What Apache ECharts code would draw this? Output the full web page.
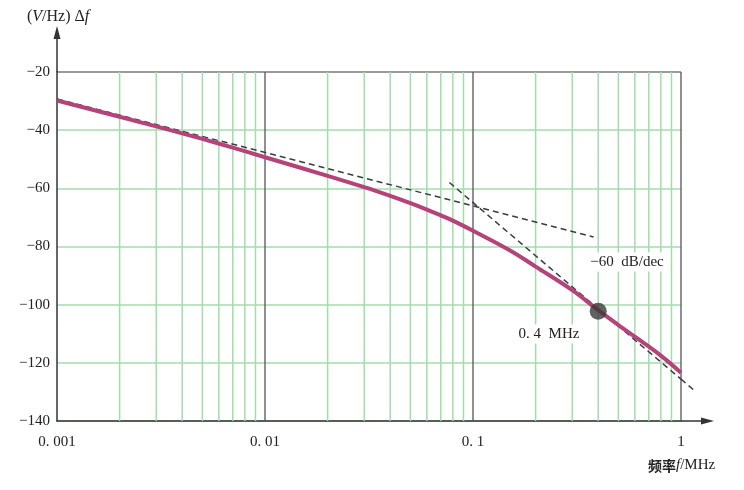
<!DOCTYPE html>
<html><head><meta charset="utf-8">
<script src="https://cdn.jsdelivr.net/npm/echarts@6/dist/echarts.min.js"></script>
<style>html,body{margin:0;padding:0;background:#fff}#c{width:744px;height:490px}</style>
</head><body><div id="c"></div>
<script>
// ---- data ----
const freq  = [0.001,0.002,0.003,0.004,0.005,0.007,0.01,0.02,0.03,0.04,0.05,0.06,0.07,0.08,0.1,0.15,0.2,0.3,0.4,0.5,0.6,0.8,1];
const level = [-29.8,-35.4,-38.7,-41.1,-43.0,-46.0,-49.3,-55.7,-59.6,-62.6,-65.1,-67.3,-69.3,-71.1,-74.6,-81.3,-86.9,-95.0,-101.9,-107.0,-111.0,-117.5,-123.4];
const asymLow  = [[0.001,-29.3],[0.38,-76.7]];     // -20 dB/dec asymptote
const asymHigh = [[0.077,-58.0],[1.15,-129.3]];    // -60 dB/dec asymptote
const markerPoint = [[0.4,-102.3]];
const xTicks = [0.001,0.01,0.1,1];
const xTickLabels = ['0. 001','0. 01','0. 1','1'];
const yTicks = [-140,-120,-100,-80,-60,-40,-20];
const yTickLabels = ['−140','−120','−100','−80','−60','−40','−20'];
const decades = [0.001,0.01,0.1];
const minorMult = [2,3,4,5,6,7,8,9];
const slopeLabel = '−60  dB/dec';
const pointLabel = '0. 4  MHz';
// ---------------------------------------

const minorTicks = [];
decades.forEach(d => minorMult.forEach(m => minorTicks.push(+(d*m).toPrecision(6))));

const serif = '"Liberation Serif","DejaVu Serif",serif';
const green = '#a3dcac';
const chart = echarts.init(document.getElementById('c'), null, {renderer:'canvas'});

const yMin = yTicks[0], yMax = yTicks[yTicks.length-1];
const xMin = xTicks[0], xMax = xTicks[xTicks.length-1];
const gridColors = yTicks.map((v,i) => i === yTicks.length-1 ? '#7a7a7a' : green);

const minorSeries = minorTicks.map(v => ({
  type:'line', data:[[v, yMin],[v, yMax]], symbol:'none', silent:true, z:1,
  lineStyle:{color:green, width:1.5}
}));

// part of the -60 dB/dec asymptote inside the axis range
const hiSlope = (asymHigh[1][1]-asymHigh[0][1]) / (Math.log10(asymHigh[1][0]) - Math.log10(asymHigh[0][0]));
const hiAtMax = asymHigh[0][1] + hiSlope*(Math.log10(xMax)-Math.log10(asymHigh[0][0]));

chart.setOption({
  animation:false,
  backgroundColor:'#fff',
  grid:{left:57, right:63, top:72, bottom:69, containLabel:false},
  xAxis:{
    type:'log', logBase:10, min:xMin, max:xMax,
    axisLine:{show:true, lineStyle:{color:'#333', width:1.5}},
    axisTick:{show:false},
    axisLabel:{
      margin:14, color:'#222', fontFamily:serif, fontSize:15,
      formatter:v => { const k = xTicks.findIndex(t => Math.abs(Math.log10(t)-Math.log10(v))<1e-6); return k>=0 ? xTickLabels[k] : ''; }
    },
    splitLine:{show:false},
    minorTick:{show:false}, minorSplitLine:{show:false}
  },
  yAxis:{
    type:'value', min:yMin, max:yMax, interval:20,
    axisLine:{show:true, lineStyle:{color:'#333', width:1.5}},
    axisTick:{show:false},
    axisLabel:{
      margin:7, color:'#222', fontFamily:serif, fontSize:15,
      formatter:v => { const k = yTicks.indexOf(Math.round(v)); return k>=0 ? yTickLabels[k] : ''; }
    },
    splitLine:{show:true, lineStyle:{color:gridColors, width:1.5}}
  },
  series: minorSeries.concat(
    xTicks.slice(1).map(v => ({
      type:'line', data:[[v, yMin],[v, yMax]], symbol:'none', silent:true, z:2,
      lineStyle:{color:'#555', width:1.3}
    })),
    [
    {
      type:'line', data:asymLow, symbol:'none', silent:true, z:3,
      lineStyle:{color:'#3c3c3c', width:1.5, type:[6,4]}
    },
    {
      type:'line', data:[asymHigh[0], [xMax, hiAtMax]], symbol:'none', silent:true, z:3,
      lineStyle:{color:'#3c3c3c', width:1.5, type:[6,4]}
    },
    {
      type:'line', data:freq.map((f,i)=>[f, level[i]]), symbol:'none', smooth:0.4, silent:true, z:4,
      lineStyle:{color:'#b5437a', width:4}
    },
    {
      type:'scatter', data:markerPoint, symbolSize:17, silent:true, z:5,
      itemStyle:{color:'#3a3a3a'}
    }
  ])
});

// axis arrows, asymptote tail beyond the axis end, annotations
const p0 = chart.convertToPixel({gridIndex:0}, [xMin, yMin]);
const p1 = chart.convertToPixel({gridIndex:0}, [xMax, yMax]);
const ax = p0[0], ay = p0[1], rx = p1[0], ty = p1[1];
const decadePx = (rx - ax) / (Math.log10(xMax) - Math.log10(xMin));
const tailStart = chart.convertToPixel({gridIndex:0}, [xMax, hiAtMax]);
const tailEndX = rx + decadePx*(Math.log10(asymHigh[1][0]) - Math.log10(xMax));
const tailEndY = chart.convertToPixel({yAxisIndex:0}, asymHigh[1][1]);
chart.setOption({
  graphic:[
    {type:'line', shape:{x1:tailStart[0], y1:tailStart[1], x2:tailEndX, y2:tailEndY}, style:{stroke:'#3c3c3c', lineWidth:1.5, lineDash:[6,4]}, z:9},
    {type:'line', shape:{x1:ax, y1:ty, x2:ax, y2:ty-34}, style:{stroke:'#333', lineWidth:1.5}, z:10},
    {type:'polygon', shape:{points:[[ax, ty-46],[ax-3.5, ty-33],[ax+3.5, ty-33]]}, style:{fill:'#333'}, z:10},
    {type:'line', shape:{x1:rx, y1:ay, x2:rx+22, y2:ay}, style:{stroke:'#333', lineWidth:1.5}, z:10},
    {type:'polygon', shape:{points:[[rx+33, ay],[rx+20, ay-3.5],[rx+20, ay+3.5]]}, style:{fill:'#333'}, z:10},
    {type:'text', x:27, y:9, z:10, style:{
      text:'{n|(}{i|V}{n|/Hz) Δ}{i|f}',
      rich:{n:{fontFamily:serif, fontSize:16, fill:'#222'}, i:{fontFamily:serif, fontSize:16, fontStyle:'italic', fill:'#222'}}
    }},
    {type:'text', x:648, y:458, z:10, style:{
      text:'{c|频率}{i|f}{n|/MHz}',
      rich:{c:{fontFamily:'"Noto Sans CJK SC"', fontSize:14, fontWeight:'bold', fill:'#222'},
            i:{fontFamily:serif, fontSize:15, fontStyle:'italic', fill:'#222'},
            n:{fontFamily:serif, fontSize:15, fill:'#222'}}
    }},
    {type:'text', x:627, y:262, z:10, style:{
      text:slopeLabel, fontFamily:serif, fontSize:15, fill:'#222', align:'center', verticalAlign:'middle',
      backgroundColor:'#fff', padding:[2,3]
    }},
    {type:'text', x:549, y:334, z:10, style:{
      text:pointLabel, fontFamily:serif, fontSize:15, fill:'#222', align:'center', verticalAlign:'middle',
      backgroundColor:'#fff', padding:[2,3]
    }}
  ]
});
</script>
</body></html>
